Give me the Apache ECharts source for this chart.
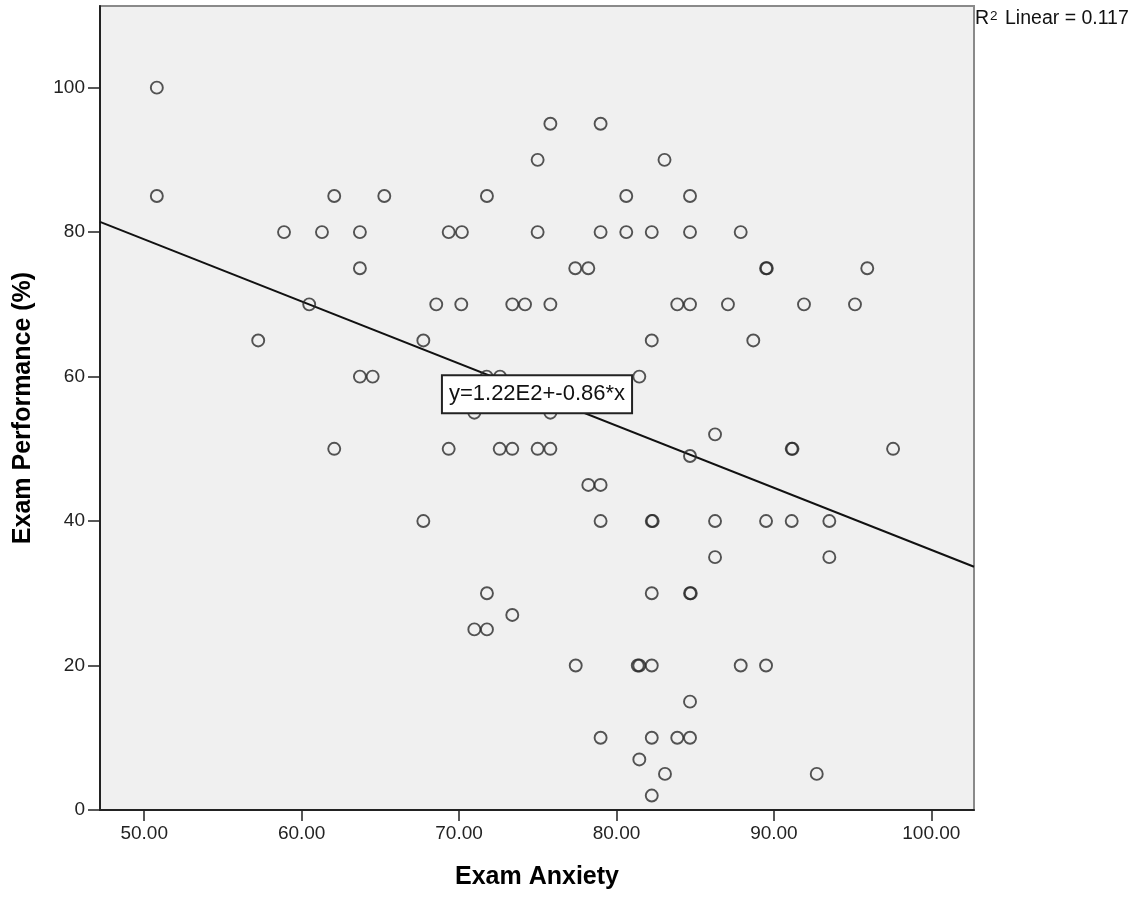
<!DOCTYPE html>
<html>
<head>
<meta charset="utf-8">
<script src="https://cdn.jsdelivr.net/npm/echarts@6/dist/echarts.min.js"></script>
<style>
html,body{margin:0;padding:0;background:#fff;}
#chart{width:1141px;height:898px;}
</style>
</head>
<body>
<div id="chart"></div>
<script>
// Exam Anxiety (x) values
const anxiety = [
  50.80, 50.80, 62.07, 65.25, 58.88, 61.29, 63.70, 63.70, 60.48, 57.24,
  63.70, 64.51, 62.07, 75.80, 78.99, 74.99, 83.05, 71.77, 80.62, 69.34,
  70.18, 74.99, 78.99, 80.62, 82.24, 77.38, 78.21, 68.55, 70.14, 73.38,
  74.19, 75.80, 67.73, 82.24, 71.75, 72.60, 81.45, 70.97, 75.80, 84.67,
  84.67, 87.89, 89.50, 89.55, 95.93, 83.86, 84.67, 87.08, 91.91, 95.15,
  88.69, 86.26, 69.34, 72.58, 73.38, 74.99, 75.80, 78.21, 78.99, 67.73,
  78.99, 82.24, 82.30, 71.77, 73.38, 70.97, 71.77, 77.41, 81.35, 81.45,
  82.24, 78.99, 82.24, 81.45, 83.08, 82.24, 82.24, 84.67, 91.13, 91.18,
  97.57, 86.26, 89.50, 91.13, 93.52, 86.26, 93.52, 84.67, 84.72, 87.89,
  89.50, 84.67, 83.86, 84.67, 92.72
];
// Exam Performance (%) values
const performance = [
  100, 85, 85, 85, 80, 80, 80, 75, 70, 65,
  60, 60, 50, 95, 95, 90, 90, 85, 85, 80,
  80, 80, 80, 80, 80, 75, 75, 70, 70, 70,
  70, 70, 65, 65, 60, 60, 60, 55, 55, 85,
  80, 80, 75, 75, 75, 70, 70, 70, 70, 70,
  65, 52, 50, 50, 50, 50, 50, 45, 45, 40,
  40, 40, 40, 30, 27, 25, 25, 20, 20, 20,
  20, 10, 10, 7, 5, 2, 30, 49, 50, 50,
  50, 40, 40, 40, 40, 35, 35, 30, 30, 20,
  20, 15, 10, 10, 5
];
// Fit shown on the chart
const intercept = 122;
const slope = -0.86;
const rSquared = 0.117;
const equationText = 'y=1.22E2+-0.86*x';
// Axis ticks
const xTicks = [50, 60, 70, 80, 90, 100];
const yTicks = [0, 20, 40, 60, 80, 100];
const xMin = 47.19, xMax = 102.71, yMin = 0, yMax = 111.3;

const points = anxiety.map((a, i) => [a, performance[i]]);
const fit = x => intercept + slope * x;
const xMid = (xMin + xMax) / 2;

const FONT = '"Liberation Sans", Arial, sans-serif';
const chart = echarts.init(document.getElementById('chart'));
chart.setOption({
  animation: false,
  backgroundColor: '#ffffff',
  title: {
    text: 'R{s|2} Linear = ' + rSquared.toFixed(3),
    left: 975, top: 9, padding: 0,
    textStyle: {
      fontFamily: FONT, fontSize: 19.5, fontWeight: 'normal', color: '#111',
      rich: { s: { fontFamily: FONT, fontSize: 13.5, color: '#111', verticalAlign: 'top', padding: [0, 2, 0, 1] } }
    }
  },
  grid: {
    left: 100, top: 6, width: 874, height: 804,
    show: true, backgroundColor: '#f0f0f0', borderColor: '#8a8a8a', borderWidth: 2
  },
  xAxis: {
    type: 'value', min: xMin, max: xMax,
    name: 'Exam Anxiety', nameLocation: 'middle', nameGap: 55,
    nameTextStyle: { fontFamily: FONT, fontSize: 25, fontWeight: 'bold', color: '#000' },
    axisLine: { show: true, onZero: false, lineStyle: { color: '#222', width: 2 } },
    axisTick: { show: true, length: 11, customValues: xTicks, lineStyle: { color: '#222', width: 1.5 } },
    axisLabel: { customValues: xTicks, margin: 14, fontFamily: FONT, fontSize: 19, color: '#222',
      formatter: v => v.toFixed(2) },
    splitLine: { show: false }
  },
  yAxis: {
    type: 'value', min: yMin, max: yMax,
    name: 'Exam Performance (%)', nameLocation: 'middle', nameGap: 64,
    nameTextStyle: { fontFamily: FONT, fontSize: 25, fontWeight: 'bold', color: '#000' },
    axisLine: { show: true, onZero: false, lineStyle: { color: '#222', width: 2 } },
    axisTick: { show: true, length: 12, customValues: yTicks, lineStyle: { color: '#222', width: 1.5 } },
    axisLabel: { customValues: yTicks, margin: 15, fontFamily: FONT, fontSize: 19, color: '#222' },
    splitLine: { show: false }
  },
  series: [
    {
      type: 'line',
      data: [[xMin, fit(xMin)], [xMax, fit(xMax)]],
      symbol: 'none', silent: true, z: 2,
      lineStyle: { color: '#111', width: 2 },
      markPoint: {
        symbol: 'rect', symbolSize: 1, silent: true,
        itemStyle: { color: 'rgba(0,0,0,0)' },
        data: [{ coord: [xMid, fit(xMid)] }],
        label: {
          show: true, position: 'inside', formatter: equationText,
          fontFamily: FONT, fontSize: 22, color: '#111', lineHeight: 26,
          backgroundColor: '#ffffff', borderColor: '#222', borderWidth: 2,
          padding: [5, 6, 5, 6]
        }
      }
    },
    {
      type: 'scatter',
      data: points,
      symbol: 'circle', symbolSize: 12, z: 3,
      itemStyle: { color: 'rgba(0,0,0,0)', borderColor: '#2a2a2a', borderWidth: 1.9 }
    }
  ]
});
</script>
</body>
</html>
